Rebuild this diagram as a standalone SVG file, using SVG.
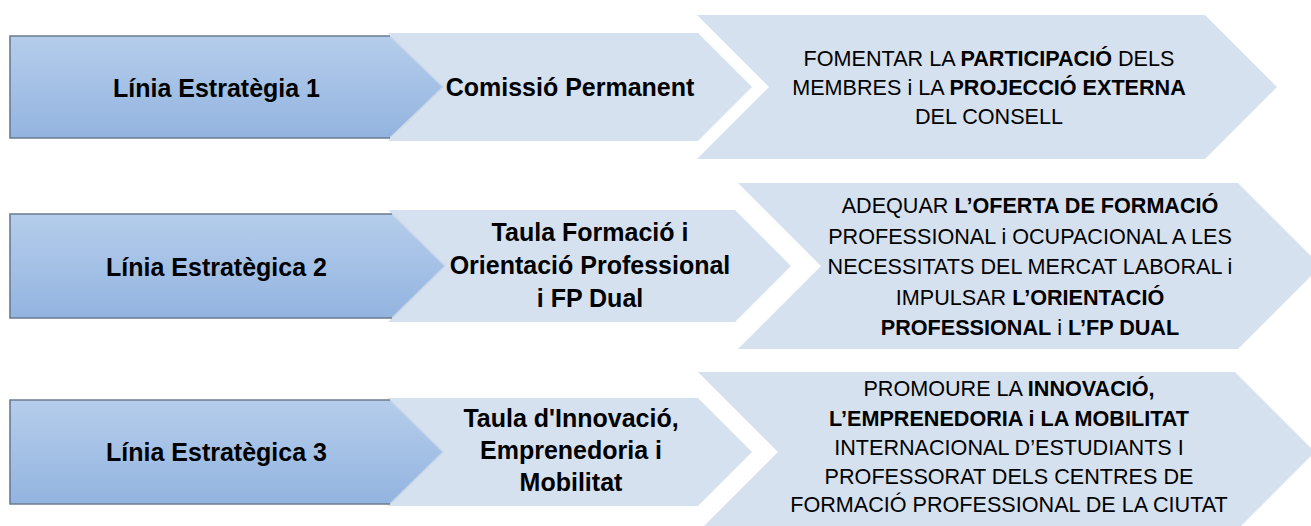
<svg xmlns="http://www.w3.org/2000/svg" width="1311" height="526" viewBox="0 0 1311 526">
  <defs>
    <linearGradient id="blueGrad" x1="0" y1="0" x2="0" y2="1">
      <stop offset="0" stop-color="#b5cdeb"/>
      <stop offset="1" stop-color="#93b4e0"/>
    </linearGradient>
    <style>
      .light { fill: #d6e1ef; }
      .blue { fill: url(#blueGrad); }
      .border { fill: none; stroke: #6b7b90; stroke-width: 1.6; }
      .edge { fill: none; stroke: #c9d6e8; stroke-width: 1.5; }
      .lt { font-family: "Liberation Sans", Arial, sans-serif; font-size: 25px; font-weight: bold; text-anchor: middle; fill: #000; }
      .rt { font-family: "Liberation Sans", Arial, sans-serif; font-size: 21.6px; text-anchor: middle; fill: #000; }
      .b { font-weight: bold; }
    </style>
  </defs>

  <g id="connectors"></g>

  <!-- Row 1 -->
  <g id="objectiu-1">
    <path class="light" d="M697,15 H1205 L1277,87 L1205,159 H697 L769,87 Z"/>
    <text class="rt" x="989" y="66">FOMENTAR LA <tspan class="b">PARTICIPACIÓ</tspan> DELS</text>
    <text class="rt" x="989" y="95">MEMBRES i LA <tspan class="b">PROJECCIÓ EXTERNA</tspan></text>
    <text class="rt" x="989" y="124">DEL CONSELL</text>
  </g>
  <g id="organ-1">
    <path class="light" d="M388,33 H698 L752,87 L698,141 H388 L442,87 Z"/>
    <text class="lt" x="570" y="96">Comissió Permanent</text>
  </g>
  <g id="linia-1">
    <path class="blue" d="M10,36 H390 L443,87 L390,138 H10 Z"/>
    <path class="edge" d="M390,36 L443,87 L390,138"/>
    <path class="border" d="M390,36 H10 V138 H390"/>
    <text class="lt" x="216.5" y="96.5">Línia Estratègia 1</text>
  </g>

  <!-- Row 2 -->
  <g id="objectiu-2">
    <path class="light" d="M738,183 H1238 L1321,266 L1238,349 H738 L821,266 Z"/>
    <text class="rt" x="1030" y="213">ADEQUAR <tspan class="b">L’OFERTA DE FORMACIÓ</tspan></text>
    <text class="rt" x="1030" y="243.5">PROFESSIONAL i OCUPACIONAL A LES</text>
    <text class="rt" x="1030" y="274">NECESSITATS DEL MERCAT LABORAL i</text>
    <text class="rt" x="1030" y="304.5">IMPULSAR <tspan class="b">L’ORIENTACIÓ</tspan></text>
    <text class="rt" x="1030" y="335"><tspan class="b">PROFESSIONAL</tspan> i <tspan class="b">L’FP DUAL</tspan></text>
  </g>
  <g id="organ-2">
    <path class="light" d="M388,210 H735 L791,266 L735,322 H388 L444,266 Z"/>
    <text class="lt" x="590" y="241">Taula Formació i</text>
    <text class="lt" x="590" y="274">Orientació Professional</text>
    <text class="lt" x="590" y="307">i FP Dual</text>
  </g>
  <g id="linia-2">
    <path class="blue" d="M10,214 H392 L445,266 L392,318 H10 Z"/>
    <path class="edge" d="M392,214 L445,266 L392,318"/>
    <path class="border" d="M392,214 H10 V318 H392"/>
    <text class="lt" x="216.5" y="275.5">Línia Estratègica 2</text>
  </g>

  <!-- Row 3 -->
  <g id="objectiu-3">
    <path class="light" d="M698,372 H1235 L1315,452 L1235,532 H698 L778,452 Z"/>
    <text class="rt" x="1009" y="396">PROMOURE LA <tspan class="b">INNOVACIÓ,</tspan></text>
    <text class="rt" x="1009" y="426"><tspan class="b">L’EMPRENEDORIA i LA MOBILITAT</tspan></text>
    <text class="rt" x="1009" y="455">INTERNACIONAL D’ESTUDIANTS I</text>
    <text class="rt" x="1009" y="484">PROFESSORAT DELS CENTRES DE</text>
    <text class="rt" x="1009" y="512">FORMACIÓ PROFESSIONAL DE LA CIUTAT</text>
  </g>
  <g id="organ-3">
    <path class="light" d="M388,398 H698 L752,452 L698,506 H388 L442,452 Z"/>
    <text class="lt" x="571" y="427">Taula d'Innovació,</text>
    <text class="lt" x="571" y="459">Emprenedoria i</text>
    <text class="lt" x="571" y="491">Mobilitat</text>
  </g>
  <g id="linia-3">
    <path class="blue" d="M10,400 H390 L443,452 L390,504 H10 Z"/>
    <path class="edge" d="M390,400 L443,452 L390,504"/>
    <path class="border" d="M390,400 H10 V504 H390"/>
    <text class="lt" x="216.5" y="461">Línia Estratègica 3</text>
  </g>
</svg>
